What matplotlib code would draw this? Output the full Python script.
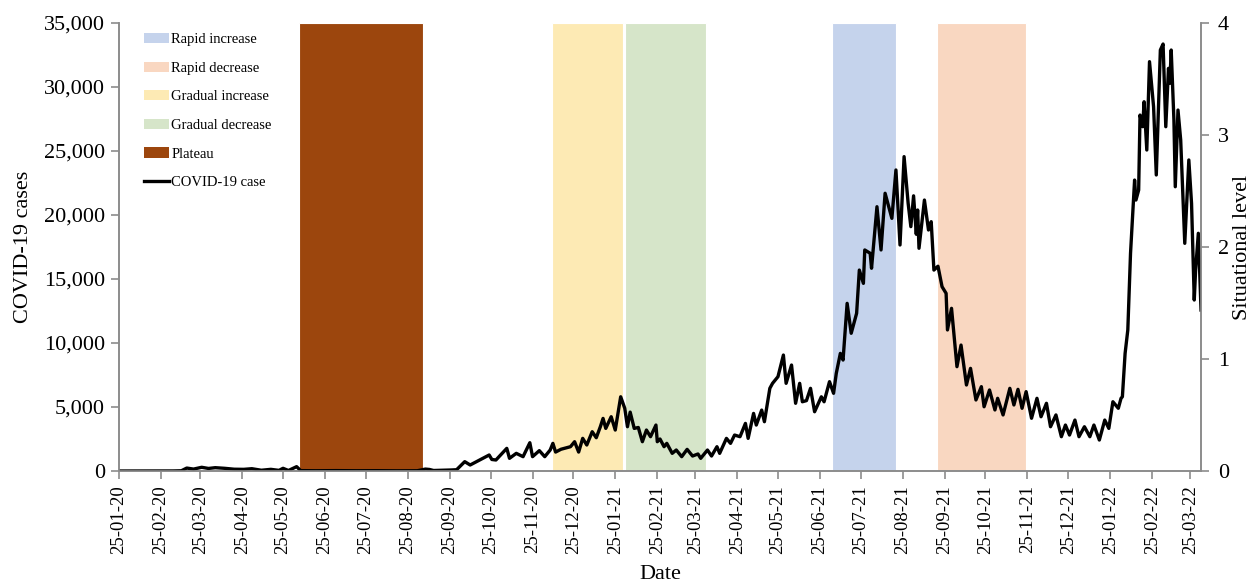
import matplotlib
matplotlib.use("Agg")
import matplotlib.pyplot as plt
import matplotlib.dates as mdates
import matplotlib.ticker as mticker
from matplotlib.patches import Patch
from matplotlib.lines import Line2D
import pandas as pd

# ---- daily COVID-19 cases (days counted from the first date) ----
start_date = "2020-01-25"
end_date = "2022-04-02"
case_day = [0, 20, 40, 46, 50, 55, 61, 66, 71, 78, 85, 92, 98, 105, 112, 118, 121, 125, 131, 134,
            145, 160, 175, 190, 205, 220, 226, 229, 232, 240, 245, 249, 255, 259, 266, 273, 275, 278,
            286, 288, 293, 298, 303, 305, 310, 314, 318, 320, 322, 326, 333, 336, 339, 342, 345, 349,
            352, 355, 357, 359, 363, 366, 370, 373, 375, 377, 380, 383, 386, 389, 392, 396, 397, 399,
            402, 404, 408, 411, 415, 419, 423, 427, 429, 434, 437, 441, 443, 448, 451, 454, 458, 462,
            464, 468, 470, 474, 476, 480, 482, 486, 490, 492, 496, 499, 502, 504, 507, 510, 513, 518,
            520, 524, 527, 529, 532, 534, 537, 540, 544, 546, 549, 550, 554, 555, 559, 562, 565, 570,
            573, 576, 579, 582, 584, 586, 588, 589, 590, 594, 597, 599, 601, 604, 607, 610, 611, 614,
            618, 621, 625, 628, 632, 636, 638, 642, 646, 648, 652, 657, 660, 663, 666, 669, 673, 677,
            680, 684, 687, 691, 695, 698, 701, 705, 708, 712, 716, 719, 723, 727, 730, 733, 737, 739,
            740, 742, 744, 746, 748, 749, 750, 752, 753, 755, 756, 758, 760, 763, 765, 768, 770, 772,
            774, 775, 776, 778, 779, 781, 783, 786, 789, 791, 793, 794, 796, 798]
cases = [0, 0, 5, 20, 230, 150, 290, 200, 260, 210, 140, 130, 180, 60, 130, 50, 210, 40, 340, 30,
         20, 30, 20, 25, 15, 20, 150, 120, 40, 60, 80, 100, 730, 470, 860, 1250, 900, 860,
         1770, 990, 1380, 1120, 2210, 1120, 1590, 1120, 1640, 2160, 1480, 1700, 1900, 2290, 1480, 2550, 2030, 3070,
         2600, 3460, 4110, 3330, 4240, 3200, 5800, 4900, 3460, 4600, 3330, 3400, 2290, 3200, 2680, 3590, 2290, 2500,
         1900, 2160, 1380, 1640, 1120, 1690, 1170, 1330, 990, 1640, 1170, 1900, 1380, 2550, 2160, 2810, 2680, 3720,
         2550, 4500, 3590, 4760, 3850, 6460, 6850, 7370, 9060, 6850, 8280, 5290, 6850, 5410, 5500, 6460, 4630, 5800,
         5410, 6980, 6070, 7630, 9190, 8670, 13100, 10760, 12320, 15700, 14660, 17270, 17010, 15840, 20650, 17270, 21700, 19740,
         23520, 17660, 24560, 20910, 19090, 21500, 18500, 20390, 17400, 21170, 18830, 19480, 15700, 16000, 14400, 13880, 11020, 12710,
         8150, 9840, 6720, 8020, 5550, 6590, 5020, 6330, 4770, 5680, 4380, 6460, 5160, 6380, 4900, 6200, 4120, 5680,
         4240, 5290, 3460, 4380, 2680, 3590, 2810, 3980, 2680, 3460, 2680, 3590, 2420, 3980, 3330, 5410, 4900, 5680,
         5800, 9190, 11020, 17010, 20910, 22730, 21170, 21950, 27810, 26900, 28850, 25080, 31980, 28460, 23130, 32890, 33360, 26900,
         31460, 30290, 32890, 27420, 22210, 28200, 25860, 17790, 24300, 20910, 13360, 15700, 18570, 12580]

# ---- situational phases (shaded on the right axis) ----
phase_names = ["Rapid increase", "Rapid decrease", "Gradual increase", "Gradual decrease", "Plateau"]
phase_start = ["2021-07-04", "2021-09-19", "2020-12-09", "2021-02-01", "2020-06-06"]
phase_end = ["2021-08-20", "2021-11-24", "2021-01-31", "2021-04-02", "2020-09-05"]
phase_level = [4, 4, 4, 4, 4]
phase_colors = ["#C5D3EC", "#F9D7C1", "#FDEAB4", "#D6E5C9", "#9C460D"]

left_ticks = [0, 5000, 10000, 15000, 20000, 25000, 30000, 35000]
right_ticks = [0, 1, 2, 3, 4]

plt.rcParams["font.family"] = ["Liberation Serif", "DejaVu Serif"]

t0 = pd.Timestamp(start_date)
dates = [t0 + pd.Timedelta(days=d) for d in case_day]

fig = plt.figure(figsize=(12.55, 5.83), dpi=100)
ax1 = fig.add_axes([0.0948, 0.1921, 0.8622, 0.7684])
ax2 = ax1.twinx()

# phase bars on the secondary axis
for s, e, lvl, c in zip(phase_start, phase_end, phase_level, phase_colors):
    s_ts, e_ts = pd.Timestamp(s), pd.Timestamp(e)
    ax2.bar(mdates.date2num(s_ts), lvl, width=(e_ts - s_ts).days, align="edge",
            color=c, edgecolor="white", linewidth=0.8)

# case curve on the primary axis, drawn above the bars
ax1.set_zorder(ax2.get_zorder() + 1)
ax1.patch.set_visible(False)
ax1.plot(dates, cases, color="black", lw=2.4, solid_joinstyle="round")

ax1.set_xlim(t0, pd.Timestamp(end_date))
ax1.set_ylim(0, 35000)
ax2.set_ylim(0, 4)
ax1.set_yticks(left_ticks)
ax2.set_yticks(right_ticks)
ax1.yaxis.set_major_formatter(mticker.FuncFormatter(lambda v, p: f"{int(v):,}"))

ax1.xaxis.set_major_locator(mdates.MonthLocator(bymonthday=25))
ax1.xaxis.set_major_formatter(mdates.DateFormatter("%d-%m-%y"))
for lbl in ax1.get_xticklabels():
    lbl.set_rotation(90)

spine_col = "#8C8C8C"
for ax in (ax1, ax2):
    ax.spines["top"].set_visible(False)
    for side in ("left", "right", "bottom"):
        ax.spines[side].set_color(spine_col)
        ax.spines[side].set_linewidth(1.2)
    ax.tick_params(colors=spine_col, length=6, width=1.2, direction="out")
ax1.tick_params(axis="y", labelsize=16, labelcolor="black", pad=4)
ax1.tick_params(axis="x", labelsize=13.5, labelcolor="black", pad=4)
ax2.tick_params(axis="y", labelsize=16, labelcolor="black", pad=6)

ax1.set_ylabel("COVID-19 cases", fontsize=16, labelpad=8)
ax2.set_ylabel("Situational level", fontsize=16, labelpad=3)
ax1.set_xlabel("Date", fontsize=16, labelpad=8)

handles = [Patch(facecolor=c, edgecolor="none") for c in phase_colors]
handles.append(Line2D([0], [0], color="black", lw=2.4))
labels = phase_names + ["COVID-19 case"]
ax1.legend(handles, labels, loc="upper left", bbox_to_anchor=(0.014, 1.0), frameon=False,
           fontsize=10.5, handlelength=1.7, handleheight=0.7, handletextpad=0.15,
           labelspacing=1.05, borderaxespad=0.3)

fig.savefig("out.png", dpi=100)
